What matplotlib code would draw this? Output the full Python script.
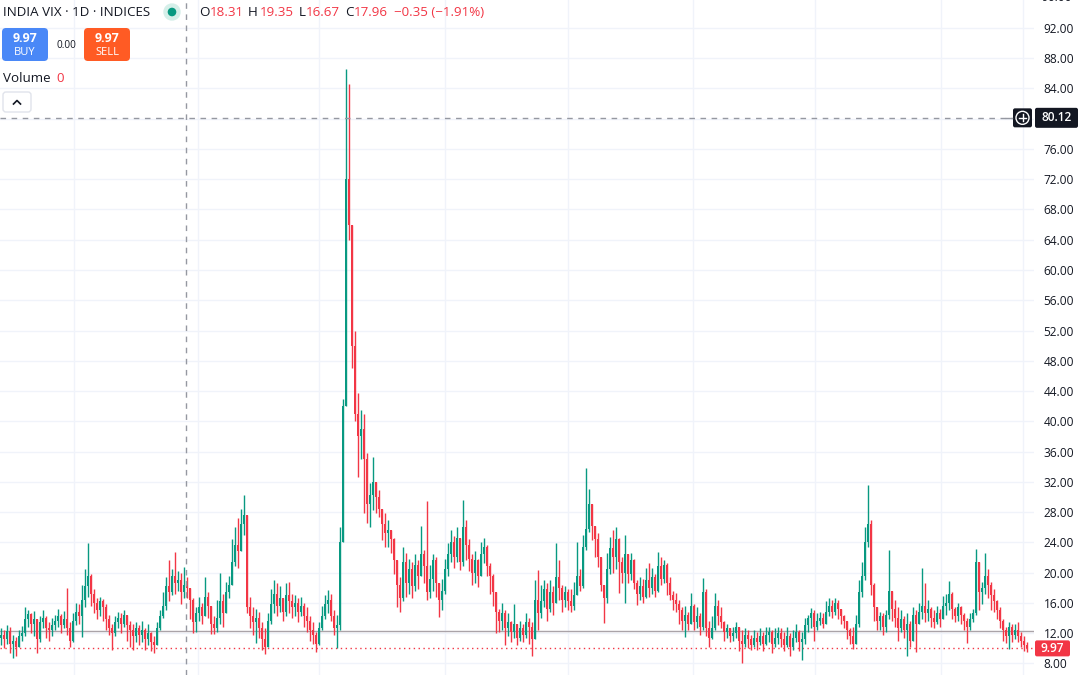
import matplotlib
matplotlib.use('Agg')
import matplotlib.pyplot as plt
from matplotlib.patches import FancyBboxPatch, Circle
import numpy as np

plt.rcParams['font.family'] = ['Open Sans', 'DejaVu Sans']

# daily-ish candles, open = previous close
first_open = 11.4
closes = [
    11.8, 11.2, 12.3, 10.6, 11.0, 10.2, 11.6, 12.0, 13.8, 14.5,
    13.2, 13.8, 11.2, 13.5, 14.0, 12.6, 12.4, 13.0, 13.6, 14.2,
    13.0, 13.8, 12.6, 11.0, 13.6, 14.8, 14.2, 16.4, 18.2, 19.6,
    17.2, 16.0, 15.0, 16.2, 15.4, 13.8, 12.6, 12.0, 13.4, 14.0,
    13.2, 14.4, 13.0, 12.4, 11.6, 12.6, 11.8, 12.4, 11.2, 12.0,
    10.8, 10.4, 12.6, 14.2, 15.6, 18.2, 17.4, 19.6, 18.6, 19.0,
    17.4, 18.31, 17.96, 16.4, 13.4, 14.6, 15.4, 14.2, 16.8, 15.6,
    13.2, 12.6, 14.0, 16.2, 14.6, 17.4, 18.4, 21.4, 23.6, 22.8,
    26.4, 27.6, 15.4, 14.2, 13.4, 14.0, 12.6, 11.2, 10.2, 13.6,
    15.8, 17.2, 15.6, 16.6, 14.8, 17.0, 16.2, 15.4, 16.0, 14.8,
    15.6, 14.2, 13.6, 12.4, 11.8, 10.6, 12.6, 14.2, 15.8, 16.4,
    14.2, 12.6, 13.0, 24.0, 42.0, 72.0, 66.0, 50.0, 41.0, 38.0,
    39.0, 35.0, 29.0, 30.2, 32.0, 30.0, 28.4, 26.4, 25.2, 25.6,
    24.4, 21.6, 18.4, 16.6, 21.4, 18.6, 20.4, 18.2, 21.0, 19.6,
    22.4, 20.8, 17.4, 19.2, 21.6, 18.6, 16.4, 17.6, 20.4, 22.4,
    24.0, 22.0, 24.6, 21.4, 26.0, 23.6, 21.8, 20.0, 21.6, 19.6,
    22.4, 23.4, 20.8, 19.6, 17.4, 14.8, 13.6, 14.6, 12.6, 13.4,
    12.2, 13.2, 11.4, 12.6, 11.8, 13.4, 12.8, 11.2, 16.4, 14.6,
    16.2, 17.8, 15.2, 17.4, 16.0, 19.4, 18.0, 16.4, 17.4, 16.2,
    15.6, 17.0, 19.6, 18.2, 23.4, 25.8, 29.0, 26.2, 24.4, 22.0,
    18.4, 16.6, 20.4, 23.2, 22.0, 24.4, 21.4, 20.0, 22.4, 19.8,
    21.6, 18.6, 17.2, 18.2, 16.8, 19.0, 18.0, 19.4, 17.6, 20.8,
    19.2, 21.0, 18.6, 17.0, 16.4, 15.8, 15.0, 13.6, 14.4, 13.2,
    15.6, 13.4, 14.2, 12.8, 17.4, 12.6, 11.4, 12.6, 15.6, 14.2,
    13.4, 12.2, 12.6, 11.6, 12.0, 12.8, 11.0, 10.6, 11.8, 11.2,
    10.4, 11.4, 10.8, 11.6, 10.6, 11.8, 12.2, 10.6, 11.4, 12.0,
    11.2, 10.4, 11.6, 10.2, 11.4, 12.2, 10.8, 11.2, 13.0, 14.0,
    14.6, 12.8, 13.6, 14.0, 13.2, 14.8, 15.6, 14.8, 16.0, 15.2,
    14.2, 13.6, 12.4, 11.6, 10.6, 13.2, 17.4, 19.6, 24.0, 26.4,
    18.4, 15.4, 13.6, 14.2, 12.8, 14.4, 17.6, 15.2, 14.0, 12.6,
    13.8, 12.4, 13.2, 11.0, 14.4, 13.2, 14.8, 15.6, 14.6, 15.2,
    14.0, 13.4, 14.6, 13.8, 15.6, 16.0, 17.2, 15.2, 14.2, 15.4,
    14.4, 13.6, 12.8, 13.8, 14.6, 21.4, 17.4, 18.0, 19.6, 18.4,
    17.0, 16.2, 15.0, 13.6, 12.4, 11.6, 12.8, 11.8, 12.4, 11.6,
    11.0, 10.4, 9.97,
]
highs = [
    12.6, 12.4, 13.0, 12.8, 11.8, 11.5, 12.4, 12.9, 15.5, 15.0,
    14.6, 14.9, 13.9, 14.3, 15.1, 14.2, 13.5, 14.0, 14.4, 15.2,
    14.5, 14.9, 18.0, 13.4, 14.6, 16.0, 15.8, 18.4, 20.5, 23.9,
    19.8, 17.8, 16.6, 16.8, 16.5, 15.8, 14.4, 13.2, 14.2, 14.8,
    14.6, 15.0, 14.4, 13.6, 13.2, 13.4, 13.0, 13.6, 12.6, 13.2,
    12.2, 11.6, 13.4, 15.0, 17.4, 19.4, 21.6, 20.4, 22.7, 20.2,
    20.0, 20.7, 19.35, 18.0, 16.6, 15.4, 16.8, 16.0, 19.4, 17.4,
    15.0, 14.2, 16.4, 19.9, 17.2, 18.8, 19.6, 24.4, 26.0, 27.2,
    28.4, 30.2, 27.6, 16.8, 15.4, 15.2, 14.8, 13.4, 12.6, 14.6,
    17.8, 19.0, 18.6, 18.2, 16.4, 18.6, 18.8, 17.2, 17.0, 16.6,
    16.8, 16.0, 15.4, 14.2, 13.4, 12.2, 13.4, 15.6, 17.0, 17.7,
    17.2, 15.0, 14.4, 26.0, 43.0, 86.6, 84.6, 60.4, 52.0, 43.7,
    41.5, 41.0, 35.8, 31.8, 35.3, 31.3, 30.9, 28.4, 27.9, 27.0,
    25.6, 24.6, 20.4, 19.4, 23.4, 22.6, 21.8, 21.4, 22.4, 21.6,
    26.1, 23.0, 29.5, 21.0, 22.5, 22.0, 18.4, 19.2, 21.8, 23.9,
    25.6, 24.8, 26.0, 24.6, 29.6, 27.0, 24.4, 22.5, 22.8, 21.8,
    24.0, 24.6, 23.6, 21.2, 19.8, 16.4, 15.2, 16.0, 15.0, 14.6,
    13.6, 15.8, 13.2, 13.6, 13.2, 14.6, 14.0, 13.4, 19.0, 20.3,
    18.4, 19.0, 18.6, 19.0, 18.2, 23.9, 21.7, 18.4, 18.2, 17.8,
    17.8, 18.8, 24.1, 20.4, 25.0, 33.8, 31.0, 28.6, 26.0, 25.2,
    21.0, 18.4, 22.6, 24.7, 25.6, 26.0, 24.6, 22.0, 25.0, 22.4,
    22.6, 21.8, 19.0, 19.4, 19.2, 20.6, 21.3, 20.6, 19.8, 22.7,
    22.0, 21.6, 21.2, 19.4, 17.6, 17.3, 16.4, 15.4, 15.6, 14.8,
    17.3, 15.8, 15.4, 14.6, 19.3, 17.8, 13.6, 14.2, 17.3, 16.4,
    15.4, 13.6, 13.2, 12.6, 12.8, 13.5, 12.6, 12.4, 12.6, 12.4,
    11.8, 12.4, 12.2, 12.6, 12.2, 12.8, 12.8, 12.4, 12.6, 12.8,
    12.6, 12.2, 12.8, 12.0, 12.4, 13.2, 12.4, 12.2, 14.0, 14.4,
    15.3, 15.0, 14.6, 14.8, 14.6, 16.2, 16.6, 16.4, 16.6, 16.4,
    15.0, 14.4, 13.6, 12.6, 12.8, 14.4, 19.0, 21.4, 26.0, 31.6,
    26.9, 18.6, 15.4, 14.8, 14.6, 15.0, 23.0, 17.6, 16.4, 15.4,
    15.0, 14.2, 14.6, 13.6, 15.4, 15.0, 16.0, 20.6, 18.6, 16.4,
    15.4, 15.0, 15.6, 15.2, 16.9, 17.2, 18.9, 17.4, 15.4, 16.0,
    15.6, 14.6, 14.0, 14.6, 15.2, 23.1, 21.0, 18.8, 22.6, 20.4,
    18.8, 17.8, 16.4, 15.4, 13.8, 12.8, 13.4, 13.2, 13.2, 13.5,
    12.2, 11.6, 10.8,
]
lows = [
    10.4, 10.0, 10.5, 9.4, 8.7, 9.0, 10.3, 11.0, 11.6, 12.8,
    12.0, 11.6, 9.4, 10.8, 12.6, 11.4, 11.0, 11.6, 12.4, 12.8,
    12.0, 12.6, 11.8, 10.2, 10.8, 13.0, 13.2, 11.5, 15.4, 16.8,
    15.6, 14.6, 13.8, 14.2, 13.6, 12.4, 11.8, 9.75, 11.6, 12.6,
    12.0, 12.8, 11.0, 10.2, 9.8, 10.8, 10.4, 10.8, 9.8, 10.4,
    9.6, 9.4, 10.4, 12.4, 14.0, 15.0, 16.2, 17.0, 17.2, 17.6,
    15.8, 16.6, 16.67, 13.8, 12.0, 12.2, 13.6, 13.2, 14.4, 14.0,
    11.9, 11.9, 12.2, 13.2, 12.8, 14.6, 16.6, 18.4, 20.8, 20.6,
    23.0, 25.0, 14.6, 12.6, 11.8, 10.7, 11.4, 9.8, 9.2, 10.6,
    13.2, 14.6, 14.2, 14.8, 13.6, 14.2, 14.6, 14.0, 14.2, 13.4,
    14.2, 12.8, 12.2, 11.0, 10.6, 9.5, 10.4, 12.4, 13.8, 14.6,
    13.6, 11.8, 10.0, 12.4, 24.0, 42.0, 64.0, 47.0, 40.0, 32.6,
    35.0, 27.9, 26.5, 26.0, 28.3, 27.9, 27.3, 24.3, 23.4, 23.4,
    22.6, 19.8, 15.4, 14.8, 16.2, 16.8, 17.2, 16.6, 17.6, 17.8,
    19.6, 18.6, 16.4, 16.6, 17.6, 16.8, 14.1, 15.0, 17.2, 19.6,
    21.4, 20.6, 21.4, 20.3, 20.8, 21.6, 20.2, 18.4, 18.6, 18.1,
    20.0, 21.2, 19.6, 17.2, 15.6, 12.0, 12.2, 12.4, 10.4, 11.6,
    10.8, 11.4, 10.4, 11.0, 10.8, 11.4, 10.6, 9.0, 11.2, 12.4,
    14.0, 15.4, 13.6, 14.8, 14.4, 16.0, 16.4, 14.8, 15.4, 15.0,
    14.8, 15.0, 17.4, 17.6, 18.0, 23.0, 25.4, 24.3, 22.0, 20.7,
    17.6, 13.3, 16.0, 19.8, 19.9, 20.4, 17.3, 18.6, 16.0, 18.6,
    19.0, 17.8, 15.7, 16.4, 16.0, 16.6, 16.8, 17.2, 16.8, 17.4,
    18.4, 18.6, 17.0, 16.4, 15.0, 14.8, 13.2, 12.4, 11.5, 12.4,
    13.2, 12.4, 12.6, 11.8, 12.4, 11.6, 10.1, 11.2, 12.4, 13.0,
    12.6, 11.0, 11.4, 10.8, 11.0, 11.4, 9.6, 8.1, 10.2, 10.0,
    9.8, 10.2, 9.8, 10.4, 9.6, 10.4, 10.8, 9.4, 10.2, 10.6,
    10.2, 9.6, 10.2, 8.9, 9.8, 10.8, 9.6, 8.4, 10.6, 12.2,
    12.6, 10.9, 12.4, 13.0, 12.6, 13.6, 14.2, 14.0, 14.4, 13.8,
    13.2, 12.6, 11.2, 10.6, 9.9, 10.8, 12.8, 16.8, 19.0, 23.4,
    17.0, 13.6, 12.4, 12.4, 11.7, 12.2, 13.8, 13.6, 12.8, 11.0,
    12.2, 11.4, 8.9, 10.2, 12.4, 9.5, 13.2, 13.8, 13.4, 13.6,
    12.8, 12.6, 13.2, 12.8, 13.8, 14.4, 15.0, 13.8, 13.4, 13.6,
    13.2, 12.4, 10.7, 12.4, 13.4, 14.4, 15.0, 15.8, 17.2, 16.6,
    15.0, 14.8, 13.8, 12.6, 11.0, 10.7, 9.9, 10.8, 11.2, 10.8,
    10.2, 9.6, 9.5,
]

price_ticks = list(range(8, 93, 4))
time_grid = [24.3, 65.7, 106, 148, 189, 230.7, 271.3, 313.3, 340.7]
cross_idx = 62
cross_price = 80.12
ref_line = 12.26
last_close = closes[-1]

GREEN = '#089981'
RED = '#f23645'
TXT = '#131722'
GRID = '#f0f3fa'
W, H = 1088, 675

c = np.array(closes)
o = np.array([first_open] + closes[:-1])
hi = np.maximum(np.array(highs), np.maximum(o, c))
lo = np.minimum(np.array(lows), np.minimum(o, c))
x = np.arange(len(c))
cols = np.where(c >= o, GREEN, RED)

fig = plt.figure(figsize=(W / 100, H / 100), dpi=100)
ax = fig.add_axes([0, 0, 1034 / W, 1])
ax.set_xlim(-1 / 3, (1034 - 1) / 3)
ax.set_ylim(6.45, 95.7)
for s in ax.spines.values():
    s.set_visible(False)

ax.set_yticks(price_ticks)
# the 80.00 label sits under the crosshair price box
ax.set_yticklabels(['' if abs(v - cross_price) < 2 else f'{v:.2f}' for v in price_ticks])
ax.yaxis.tick_right()
ax.tick_params(axis='y', length=0, pad=7, labelsize=8.6, labelcolor=TXT)
ax.set_xticks(time_grid)
ax.set_xticklabels([])
ax.tick_params(axis='x', length=0)
ax.grid(True, color=GRID, lw=1)
ax.set_axisbelow(True)

ax.axhline(ref_line, color='#aaa3a8', lw=1, zorder=1)
ax.axhline(last_close, color=RED, lw=1, ls=(0, (1, 2.5)), zorder=1)

ax.vlines(x, lo, hi, colors=cols, lw=1.0, zorder=2)
ax.bar(x, np.maximum(np.abs(c - o), 0.15), bottom=np.minimum(o, c), width=0.85,
       color=cols, linewidth=0, zorder=3)

# crosshair
ax.axvline(cross_idx - 0.33, color='#9598a1', lw=1, ls=(0, (4, 4)), zorder=4)
ax.hlines(cross_price, -1 / 3, (1012 - 1) / 3, color='#9598a1', lw=1,
          ls=(0, (4, 4)), zorder=4)

# overlay in pixel coordinates for labels and buttons
ov = fig.add_axes([0, 0, 1, 1], zorder=5)
ov.set_xlim(0, W)
ov.set_ylim(H, 0)
ov.axis('off')
ov.patch.set_visible(False)


def ypx(v):
    return H - ax.transData.transform((0, v))[1]


ov.text(3, 12, 'INDIA VIX · 1D · INDICES', color=TXT, fontsize=9.6, va='center')
ov.add_patch(Circle((172, 12), 8, color='#d5efe9'))
ov.add_patch(Circle((172, 12), 3.6, color=GREEN))
parts = [(199, 'O', TXT), (210, '18.31', RED), (248, 'H', TXT), (260, '19.35', RED),
         (299, 'L', TXT), (306, '16.67', RED), (345, 'C', TXT), (354, '17.96', RED),
         (394, '−0.35 (−1.91%)', RED)]
for px, s, col in parts:
    ov.text(px, 12, s, color=col, fontsize=9.6, va='center')

ov.add_patch(FancyBboxPatch((2, 28), 46, 33, boxstyle='round,pad=0,rounding_size=4',
                            fc='#4a88f7', ec='none'))
ov.add_patch(FancyBboxPatch((84, 28), 46, 33, boxstyle='round,pad=0,rounding_size=4',
                            fc='#ff5b24', ec='none'))
for cx, lab in [(25, 'BUY'), (107, 'SELL')]:
    ov.text(cx, 38.5, f'{last_close:.2f}', color='white', fontsize=9, weight='bold',
            ha='center', va='center')
    ov.text(cx, 52.5, lab, color='white', fontsize=8, ha='center', va='center')
ov.text(66, 45, '0.00', color=TXT, fontsize=7.2, ha='center', va='center')

ov.text(3, 78, 'Volume', color=TXT, fontsize=9.6, va='center')
ov.text(56, 78, '0', color=RED, fontsize=9.6, va='center')
ov.add_patch(FancyBboxPatch((3, 92), 28, 20, boxstyle='round,pad=0,rounding_size=3',
                            fc='white', ec='#e0e3eb', lw=1))
ov.plot([13.5, 17, 20.5], [104, 100.5, 104], color=TXT, lw=1.2)

# crosshair price label and plus button
yc = ypx(cross_price)
ov.plot([1006, 1012], [yc, yc], color='#9598a1', lw=1)
ov.add_patch(FancyBboxPatch((1013, yc - 9.5), 19, 19, boxstyle='round,pad=0,rounding_size=2',
                            fc=TXT, ec='none'))
ov.add_patch(Circle((1022.5, yc), 6.5, fc='none', ec='white', lw=1))
ov.plot([1019, 1026], [yc, yc], color='white', lw=1)
ov.plot([1022.5, 1022.5], [yc - 3.5, yc + 3.5], color='white', lw=1)
ov.add_patch(FancyBboxPatch((1035, yc - 10), 43, 20, boxstyle='round,pad=0,rounding_size=2',
                            fc=TXT, ec='none'))
ov.text(1056.5, yc, f'{cross_price:.2f}', color='white', fontsize=8.6, ha='center',
        va='center', weight='semibold')

# last price label
yl = ypx(last_close)
ov.add_patch(FancyBboxPatch((1035, yl - 8), 35, 16, boxstyle='round,pad=0,rounding_size=2',
                            fc=RED, ec='none'))
ov.text(1052.5, yl, f'{last_close:.2f}', color='white', fontsize=8.6, ha='center',
        va='center', weight='semibold')
# top tick label, cut by the edge as in the original
ov.text(1041, ypx(96), '96.00', color=TXT, fontsize=8.6, va='center')

fig.savefig('out.png', dpi=100)
